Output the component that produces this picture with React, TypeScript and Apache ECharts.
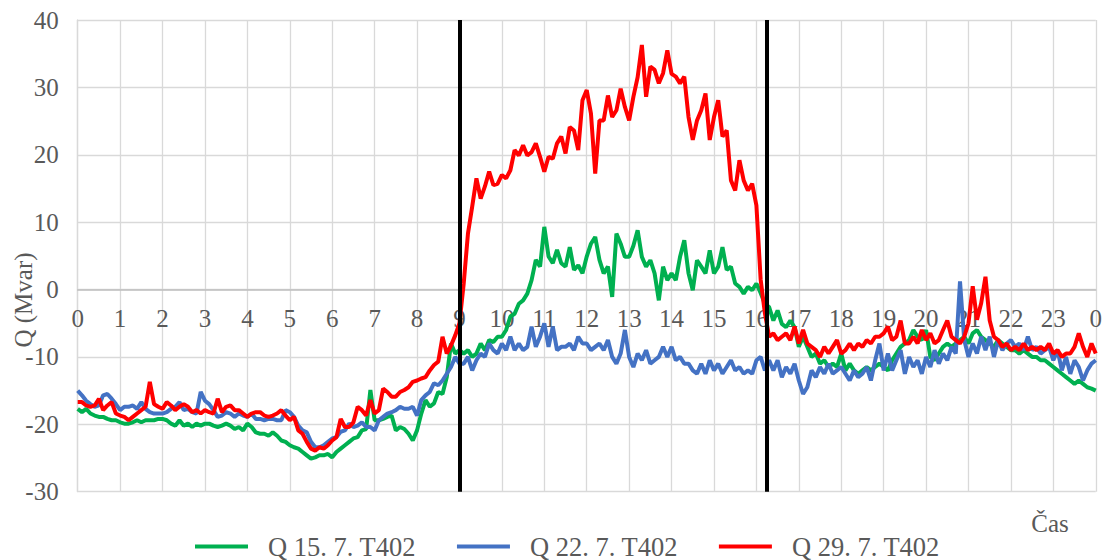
import React, { useEffect, useRef } from "react";
import * as echarts from "echarts";

// Time step of the samples (hours)
const STEP_H = 0.1;

const hourLabels = ["0","1","2","3","4","5","6","7","8","9","10","11","12","13","14","15","16","17","18","19","20","21","22","23","0"];

const seriesNames = ["Q 15. 7. T402", "Q 22. 7. T402", "Q 29. 7. T402"];

const q15 = [
  -17.7, -18.2, -17.7, -18.4, -18.7, -18.9, -18.9, -19.2, -19.4, -19.4,
  -19.7, -19.9, -19.9, -19.7, -19.4, -19.7, -19.4, -19.4, -19.4, -19.2,
  -19.2, -19.4, -19.9, -20.2, -19.4, -20.2, -19.9, -20.4, -19.9, -20.2,
  -19.9, -19.9, -20.2, -20.4, -20.2, -19.9, -20.2, -20.7, -20.4, -20.9,
  -19.9, -20.4, -21.2, -21.4, -21.4, -21.7, -21.2, -21.7, -22.4, -22.6,
  -23.1, -23.4, -23.6, -24.1, -24.6, -25.1, -24.9, -24.6, -24.6, -24.4,
  -24.9, -24.1, -23.6, -23.1, -22.6, -22.1, -21.9, -20.9, -20.7, -14.9,
  -19.4, -19.4, -19.2, -18.9, -18.7, -20.9, -20.4, -20.7, -21.4, -22.4,
  -20.9, -18.4, -16.4, -17.4, -16.9, -15.2, -15.5, -13.0, -8.0, -9.5,
  -9.0, -9.5, -9.0, -10.0, -9.5, -8.0, -9.0, -7.5, -7.8, -7.0,
  -7.0, -6.0, -4.0, -3.6, -2.1, -1.6, -0.6, 1.4, 4.4, 3.4,
  9.3, 4.9, 3.9, 5.9, 3.9, 3.4, 6.3, 2.9, 3.6, 2.4,
  4.9, 6.8, 7.8, 4.4, 2.4, 3.4, -1.1, 8.3, 6.8, 4.85,
  4.85, 6.5, 8.8, 4.85, 3.4, 4.35, 2.4, -1.6, 3.4, 1.4,
  2.4, 1.4, 4.85, 7.3, 2.4, -0.1, 4.35, 3.4, 2.4, 5.8,
  2.4, 3.4, 6.3, 2.9, 3.4, 0.9, 0.4, -0.6, 0.4, -0.1,
  0.9, -0.5, -2.1, -2.6, -4.6, -3.1, -5.1, -5.6, -4.6, -5.6,
  -8.5, -7.0, -8.5, -10.0, -9.5, -11.0, -10.5, -11.5, -11.0, -11.5,
  -9.5, -12.0, -11.0, -12.0, -12.5, -12.0, -11.5, -12.0, -11.5, -11.0,
  -11.5, -12.0, -10.5, -9.5, -8.5, -8.0, -7.5, -6.0, -7.0, -7.5,
  -6.0, -10.0, -10.5, -9.5, -8.5, -8.0, -8.5, -8.0, -7.5, -7.0,
  -8.0, -6.5, -6.0, -7.0, -7.5, -8.0, -8.5, -7.5, -8.0, -8.5,
  -9.0, -9.0, -9.5, -9.0, -9.5, -10.0, -10.0, -10.5, -10.5, -11.0,
  -11.5, -12.0, -12.5, -13.0, -13.5, -14.0, -13.5, -14.0, -14.5, -14.7,
  -15.0,
];

const q22 = [
  -15.0, -15.7, -16.5, -17.0, -17.4, -17.2, -15.7, -15.5, -16.2, -17.0,
  -17.9, -17.4, -17.4, -17.2, -17.7, -16.7, -17.7, -18.2, -18.4, -18.4,
  -18.4, -18.2, -17.7, -17.4, -16.7, -17.9, -17.7, -18.2, -18.4, -15.2,
  -16.5, -17.0, -17.9, -18.9, -18.7, -18.2, -18.4, -18.9, -18.4, -18.7,
  -18.9, -18.4, -19.2, -19.2, -19.4, -19.2, -19.2, -19.4, -19.4, -17.9,
  -18.2, -18.9, -20.2, -20.9, -21.2, -22.6, -23.4, -23.4, -23.1, -22.6,
  -22.1, -21.9, -21.1, -20.9, -19.9, -20.4, -20.2, -19.7, -20.4, -20.4,
  -20.9, -19.4, -18.9, -18.4, -18.2, -17.9, -17.4, -17.7, -17.7, -17.4,
  -18.7, -16.4, -15.7, -15.2, -13.9, -14.2, -13.5, -12.5, -11.5, -10.0,
  -11.0, -11.0, -10.0, -12.0, -10.5, -9.5, -10.0, -8.0, -9.0, -9.5,
  -8.0, -9.0, -7.0, -9.0, -8.0, -9.0, -8.5, -5.5, -8.5, -7.0,
  -5.0, -8.5, -5.5, -9.0, -8.5, -8.5, -8.0, -9.0, -7.0, -8.0,
  -8.0, -9.0, -8.5, -8.0, -9.0, -7.5, -10.0, -11.0, -9.5, -6.0,
  -10.0, -11.5, -9.5, -10.5, -9.0, -11.0, -10.5, -10.0, -8.5, -10.0,
  -8.5, -10.5, -10.0, -11.0, -11.0, -12.0, -12.5, -11.0, -12.5, -10.5,
  -12.0, -11.0, -12.5, -11.5, -10.5, -12.0, -11.5, -12.5, -12.0, -12.5,
  -10.5, -10.0, -12.0, -10.5, -12.0, -10.5, -13.0, -11.5, -12.5, -11.0,
  -13.5, -15.5, -14.5, -12.0, -13.0, -11.5, -12.5, -11.0, -12.5, -12.0,
  -11.5, -12.5, -13.5, -12.0, -13.0, -12.5, -11.5, -13.5, -10.5, -8.0,
  -12.0, -9.5, -12.0, -10.5, -9.0, -12.5, -10.0, -11.5, -10.5, -12.5,
  -10.0, -11.5, -9.0, -11.0, -9.5, -10.5, -8.5, -9.5, 1.2, -7.5,
  -10.0, -8.0, -9.5, -7.0, -9.0, -7.0, -10.0, -7.5, -9.0, -8.0,
  -7.5, -8.5, -8.0, -9.0, -7.0, -9.0, -8.5, -9.5, -9.0, -8.5,
  -10.5, -9.0, -12.0, -10.0, -12.5, -10.5, -11.5, -13.5, -12.0, -11.0,
  -10.5,
];

const q29 = [
  -16.7, -16.7, -17.2, -17.4, -17.2, -16.2, -17.9, -17.2, -16.7, -18.4,
  -18.7, -18.9, -19.4, -18.9, -18.4, -17.9, -17.4, -13.7, -17.0, -17.4,
  -17.7, -16.7, -17.2, -17.9, -17.4, -17.0, -17.4, -18.2, -17.9, -18.4,
  -17.9, -18.2, -18.4, -16.2, -18.2, -17.4, -17.2, -17.9, -17.9, -18.4,
  -18.9, -18.4, -18.2, -18.2, -18.7, -18.9, -18.7, -18.4, -17.9, -18.7,
  -19.4, -18.9, -20.9, -21.4, -22.6, -23.6, -23.9, -23.4, -23.6, -23.1,
  -22.4, -21.9, -19.2, -20.4, -20.4, -19.7, -17.4, -17.9, -18.7, -16.4,
  -18.4, -17.9, -14.7, -15.2, -15.9, -15.9, -15.2, -14.9, -14.5, -13.7,
  -13.5, -13.2, -13.0, -12.0, -11.2, -10.7, -7.0, -9.5, -8.3, -6.8,
  -5.0, 0.9, 8.3, 12.3, 16.5, 13.5, 15.3, 17.5, 15.5, 15.7,
  17.0, 16.5, 17.7, 20.7, 19.9, 21.4, 19.9, 20.4, 21.7, 19.7,
  17.5, 19.7, 19.4, 21.7, 22.7, 20.2, 24.1, 23.6, 20.7, 28.1,
  29.6, 26.1, 17.2, 25.1, 25.1, 28.8, 25.6, 26.6, 29.8, 27.1,
  25.1, 28.6, 31.5, 36.3, 28.6, 33.1, 32.6, 30.6, 32.1, 35.5,
  32.0, 31.6, 30.6, 31.6, 25.6, 22.2, 25.1, 26.6, 29.1, 22.2,
  25.6, 28.1, 22.7, 23.6, 16.2, 14.7, 19.2, 16.2, 14.7, 15.7,
  12.5, 1.5, -3.5, -7.0, -6.5, -7.5, -7.0, -6.5, -7.5, -5.5,
  -8.0, -6.0, -8.0, -8.5, -9.0, -10.0, -8.5, -9.5, -8.5, -7.5,
  -9.5, -9.0, -8.0, -9.0, -8.0, -8.5, -7.5, -8.0, -7.0, -7.0,
  -6.5, -5.5, -7.5, -7.0, -4.6, -8.0, -8.0, -7.0, -8.0, -6.0,
  -7.5, -6.5, -8.0, -7.5, -6.0, -4.6, -7.0, -7.5, -8.0, -7.0,
  -5.0, 0.5, -4.5, -2.0, 1.9, -4.6, -7.0, -7.5, -8.5, -8.0,
  -9.0, -8.5, -9.0, -8.0, -9.0, -8.5, -9.0, -8.5, -9.0, -8.0,
  -9.5, -9.0, -10.0, -9.5, -9.5, -8.5, -6.5, -8.5, -10.0, -8.0,
  -9.5,
];

// Boundaries of the marked interval (hours)
const markHours = [9, 16.25];

const colors = ["#00B050", "#4472C4", "#FF0000"];

const Y_MIN = -30;
const Y_MAX = 40;

const toPairs = (vals: number[]) => vals.map((v, i) => [Math.round(i * STEP_H * 100) / 100, v]);

const FONT = "'Liberation Serif', 'Times New Roman', serif";
const TXT = "#595959";

const GRID_TOP = 20;
const GRID_H = 471.7;
// place the category axis on the value 0 of the y axis
const ZERO_OFFSET = -(GRID_H * (0 - Y_MIN)) / (Y_MAX - Y_MIN);

export default function App() {
  const ref = useRef<HTMLDivElement>(null);
  useEffect(() => {
    if (!ref.current) return;
    const chart = echarts.init(ref.current, undefined, { renderer: "svg" });
    const all = [q15, q22, q29];
    chart.setOption({
      animation: false,
      backgroundColor: "#ffffff",
      textStyle: { fontFamily: FONT },
      grid: { left: 77.7, right: 7.3, top: GRID_TOP, height: GRID_H, containLabel: false },
      xAxis: {
        type: "value",
        position: "bottom",
        offset: ZERO_OFFSET,
        min: 0,
        max: 24,
        interval: 1,
        axisLine: { show: true, onZero: false, lineStyle: { color: "#bfbfbf", width: 1.5 } },
        axisTick: { show: false },
        axisLabel: {
          fontSize: 25,
          color: TXT,
          fontFamily: FONT,
          margin: 16,
          formatter: (v: number) => hourLabels[Math.round(v)] ?? "",
        },
        splitLine: { show: true, lineStyle: { color: "#d9d9d9", width: 1.3 } },
      },
      yAxis: {
        type: "value",
        min: Y_MIN,
        max: Y_MAX,
        interval: 10,
        axisLine: { show: true, onZero: false, lineStyle: { color: "#d9d9d9", width: 1.3 } },
        axisTick: { show: false },
        axisLabel: { fontSize: 25, color: TXT, fontFamily: FONT, margin: 19 },
        splitLine: { show: true, lineStyle: { color: "#d9d9d9", width: 1.3 } },
      },
      legend: {
        left: 190,
        top: 528,
        icon: "rect",
        itemWidth: 53,
        itemHeight: 4,
        itemGap: 41,
        textStyle: { fontSize: 26.5, color: TXT, fontFamily: FONT, padding: [0, 0, 0, 15] },
        data: seriesNames,
      },
      graphic: [
        {
          type: "text",
          x: 23,
          y: 300,
          rotation: Math.PI / 2,
          style: {
            text: "Q (Mvar)",
            fontSize: 25,
            fontFamily: FONT,
            fill: TXT,
            textAlign: "center",
            verticalAlign: "middle",
          },
        },
        {
          type: "text",
          x: 1050,
          y: 523,
          style: {
            text: "Čas",
            fontSize: 25,
            fontFamily: FONT,
            fill: TXT,
            textAlign: "center",
            verticalAlign: "middle",
          },
        },
      ],
      series: all.map((vals, k) => ({
        name: seriesNames[k],
        type: "line",
        data: toPairs(vals),
        showSymbol: false,
        symbol: "none",
        color: colors[k],
        lineStyle: { color: colors[k], width: 4 },
        z: 2 + k,
        markLine:
          k === 2
            ? {
                silent: true,
                symbol: ["none", "none"],
                label: { show: false },
                lineStyle: { color: "#000000", width: 4, type: "solid" },
                emphasis: { disabled: true },
                data: markHours.map((h) => ({ xAxis: h })),
              }
            : undefined,
      })),
    });
    return () => chart.dispose();
  }, []);
  return (
    <div
      ref={ref}
      style={{ position: "fixed", left: 0, top: 0, width: 1105, height: 560 }}
    />
  );
}
